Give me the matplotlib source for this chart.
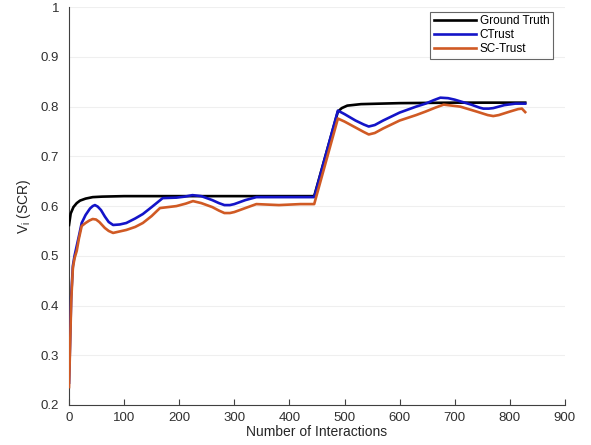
import matplotlib
matplotlib.use("Agg")
import matplotlib.pyplot as plt

plt.rcParams['font.family'] = ['Liberation Sans', 'DejaVu Sans']

gt_x = [0, 3, 8, 14, 20, 30, 43, 60, 100, 200, 300, 400, 445, 488, 495, 505, 530, 600, 700, 828]
gt_y = [0.562, 0.585, 0.598, 0.606, 0.611, 0.615, 0.618, 0.619, 0.620, 0.620, 0.620, 0.620, 0.620, 0.790, 0.797, 0.802, 0.805, 0.807, 0.808, 0.808]

ct_x = [0, 2, 4, 7, 10, 14, 18, 23, 30, 38, 43, 47, 52, 58, 65, 72, 80, 92, 104, 120, 134, 150, 170, 195, 210, 224, 240, 260, 272, 282, 292, 300, 320, 340, 380, 420, 445,
        488, 500, 520, 535, 544, 555, 570, 600, 630, 647, 662, 674, 688, 700, 730, 745, 752, 762, 770, 790, 810, 828]
ct_y = [0.245, 0.33, 0.42, 0.48, 0.50, 0.52, 0.54, 0.566, 0.582, 0.595, 0.600, 0.602, 0.599, 0.592, 0.579, 0.568, 0.562, 0.563, 0.566, 0.575, 0.584, 0.598, 0.616, 0.617, 0.619, 0.622, 0.620, 0.612, 0.606, 0.602, 0.602, 0.604, 0.612, 0.618, 0.618, 0.618, 0.618,
        0.792, 0.785, 0.772, 0.764, 0.760, 0.763, 0.772, 0.788, 0.800, 0.806, 0.813, 0.818, 0.817, 0.814, 0.804, 0.798, 0.796, 0.796, 0.797, 0.803, 0.806, 0.806]

sc_x = [0, 2, 4, 7, 10, 14, 18, 23, 30, 37, 43, 49, 55, 65, 72, 80, 92, 104, 120, 134, 150, 165, 195, 212, 225, 240, 260, 272, 282, 292, 300, 320, 340, 381, 420, 445,
        488, 500, 520, 535, 544, 555, 570, 600, 630, 647, 665, 680, 710, 740, 760, 770, 780, 800, 815, 822, 828]
sc_y = [0.236, 0.32, 0.41, 0.476, 0.495, 0.51, 0.535, 0.560, 0.566, 0.571, 0.574, 0.573, 0.568, 0.556, 0.550, 0.546, 0.549, 0.552, 0.558, 0.566, 0.580, 0.596, 0.600, 0.605, 0.610, 0.606, 0.598, 0.591, 0.586, 0.586, 0.588, 0.596, 0.604, 0.602, 0.604, 0.604,
        0.776, 0.770, 0.758, 0.749, 0.744, 0.747, 0.756, 0.772, 0.783, 0.790, 0.798, 0.804, 0.800, 0.790, 0.783, 0.781, 0.783, 0.790, 0.795, 0.796, 0.789]

x_ticks = [0, 100, 200, 300, 400, 500, 600, 700, 800, 900]
y_ticks = [0.2, 0.3, 0.4, 0.5, 0.6, 0.7, 0.8, 0.9, 1.0]
y_tick_labels = ['0.2', '0.3', '0.4', '0.5', '0.6', '0.7', '0.8', '0.9', '1']

fig = plt.figure(figsize=(5.91, 4.45), dpi=100)
ax = fig.add_axes([0.1168, 0.0899, 0.839, 0.894])

ax.plot(gt_x, gt_y, color='black', lw=1.9, label='Ground Truth', zorder=3)
ax.plot(ct_x, ct_y, color='#1414c8', lw=1.9, label='CTrust', zorder=4)
ax.plot(sc_x, sc_y, color='#d05a24', lw=1.9, label='SC-Trust', zorder=5)

ax.set_xlim(0, 900)
ax.set_ylim(0.2, 1.0)
ax.set_xticks(x_ticks)
ax.set_yticks(y_ticks)
ax.set_yticklabels(y_tick_labels)
ax.grid(axis='y', color='#efefef', lw=0.8)
ax.set_axisbelow(True)
for s in ['top', 'right']:
    ax.spines[s].set_visible(False)
for s in ['left', 'bottom']:
    ax.spines[s].set_color('#404040')
    ax.spines[s].set_linewidth(0.8)
ax.tick_params(axis='x', direction='in', length=4, color='#404040', labelsize=9.5, labelcolor='#303030', pad=5)
ax.tick_params(axis='y', direction='in', length=0, labelsize=9.5, labelcolor='#303030', pad=7)

ax.set_xlabel('Number of Interactions', fontsize=10, color='#262626', labelpad=1)
ax.set_ylabel(r'$\mathregular{V_i}$ (SCR)', fontsize=10, color='#262626', labelpad=6)

leg = ax.legend(loc='upper right', bbox_to_anchor=(0.976, 0.988), fontsize=8.5, frameon=True,
                fancybox=False, borderpad=0.3, handlelength=3.6, handletextpad=0.3, labelspacing=0.15,
                borderaxespad=0)
leg.get_frame().set_edgecolor('#404040')
leg.get_frame().set_linewidth(0.8)

fig.savefig('out.png', dpi=100)
